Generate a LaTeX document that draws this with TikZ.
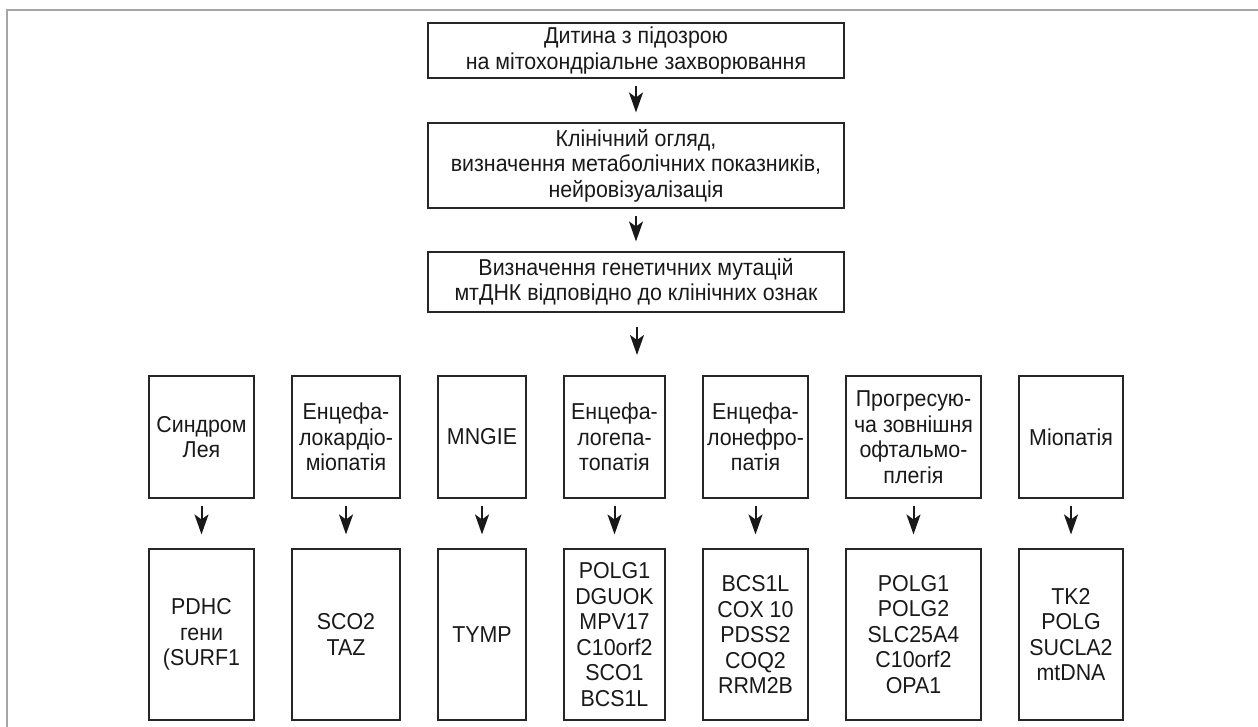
\documentclass[tikz,border=0pt]{standalone}
\usepackage{fontspec}
\setmainfont{Liberation Sans}[FakeStretch=0.93]
\usetikzlibrary{arrows.meta}
\begin{document}
\begin{tikzpicture}[x=1pt,y=-1pt,
  box/.style={draw=black!85, line width=1.1pt, inner sep=0pt, align=center,
    font=\fontsize{23}{25.5}\selectfont, text=black!90},
  arr/.style={line width=2pt, black!90, -{Stealth[length=20pt,width=14pt,inset=5pt]}},
  frame/.style={draw=black!35, line width=1.6pt}]
\useasboundingbox (0,0) rectangle (1258,727);
\draw[frame] (7,727) -- (7,10) -- (1258,10);

\node[box, minimum width=416pt, minimum height=55pt] (b1) at (636,50.5)
  {Дитина з підозрою\\на мітохондріальне захворювання};
\node[box, minimum width=416pt, minimum height=85pt] (b2) at (636,165.5)
  {Клінічний огляд,\\визначення метаболічних показників,\\нейровізуалізація};
\node[box, minimum width=416pt, minimum height=60pt] (b3) at (636,282)
  {Визначення генетичних мутацій\\мтДНК відповідно до клінічних ознак};
\coordinate (e3) at (637,355);

\draw[arr, shorten <=7pt, shorten >=10pt] (b1) -- (b2);
\draw[arr, shorten <=7pt, shorten >=10pt] (b2) -- (b3);
\draw[arr, shorten <=14pt] (b3.south -| e3) -- (e3);

% top row
\node[box, minimum width=105pt, minimum height=122pt] (d1) at (201.5,437) {Синдром\\Лея};
\node[box, minimum width=108pt, minimum height=122pt] (d2) at (346,437) {Енцефа-\\локардіо-\\міопатія};
\node[box, minimum width=88pt, minimum height=122pt] (d3) at (482,437) {MNGIE};
\node[box, minimum width=101pt, minimum height=122pt] (d4) at (614.5,437) {Енцефа-\\логепа-\\топатія};
\node[box, minimum width=105pt, minimum height=122pt] (d5) at (755.5,437) {Енцефа-\\лонефро-\\патія};
\node[box, minimum width=135pt, minimum height=122pt] (d6) at (913.5,437) {Прогресую-\\ча зовнішня\\офтальмо-\\плегія};
\node[box, minimum width=104pt, minimum height=122pt] (d7) at (1071,437) {Міопатія};

% bottom row
\node[box, minimum width=105pt, minimum height=171pt] (g1) at (201.5,634.5) {PDHC\\гени\\(SURF1};
\node[box, minimum width=108pt, minimum height=171pt] (g2) at (346,634.5) {SCO2\\TAZ};
\node[box, minimum width=88pt, minimum height=171pt] (g3) at (482,634.5) {TYMP};
\node[box, minimum width=101pt, minimum height=171pt] (g4) at (614.5,634.5) {POLG1\\DGUOK\\MPV17\\C10orf2\\SCO1\\BCS1L};
\node[box, minimum width=105pt, minimum height=171pt] (g5) at (755.5,634.5) {BCS1L\\COX 10\\PDSS2\\COQ2\\RRM2B};
\node[box, minimum width=135pt, minimum height=171pt] (g6) at (913.5,634.5) {POLG1\\POLG2\\SLC25A4\\C10orf2\\OPA1};
\node[box, minimum width=104pt, minimum height=171pt] (g7) at (1071,634.5) {TK2\\POLG\\SUCLA2\\mtDNA};

\foreach \i in {1,...,7}{
  \draw[arr, shorten <=7pt, shorten >=14pt] (d\i) -- (g\i);
}
\end{tikzpicture}
\end{document}
